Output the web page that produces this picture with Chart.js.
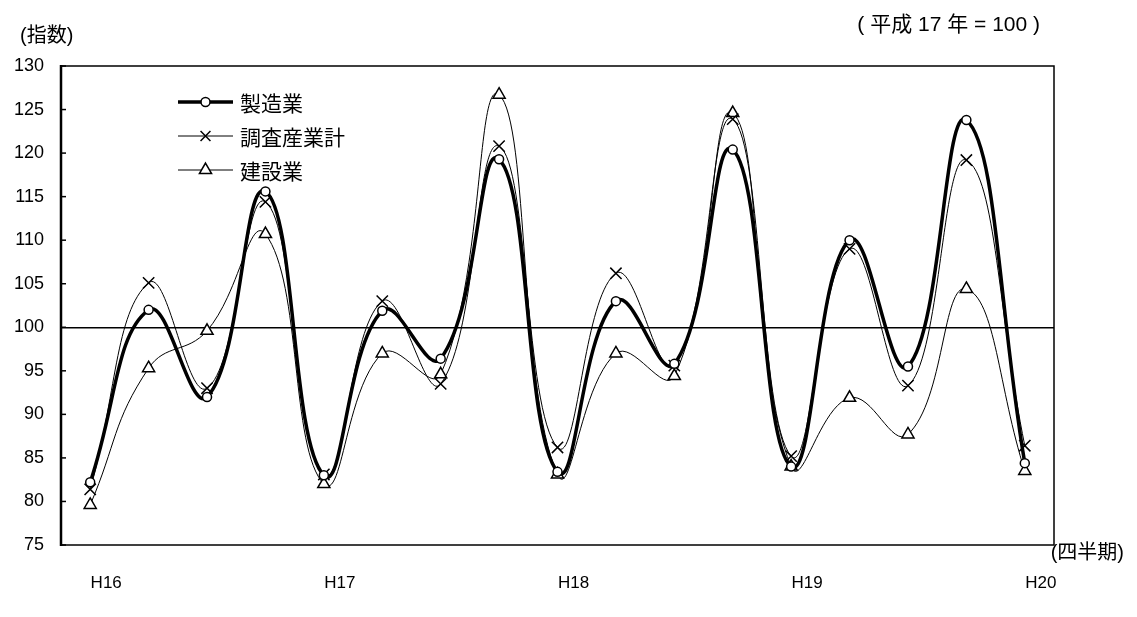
<!DOCTYPE html>
<html lang="ja">
<head>
<meta charset="utf-8">
<title>指数の推移</title>
<script src="https://cdn.jsdelivr.net/npm/chart.js@4/dist/chart.umd.min.js"></script>
<style>
  html, body { margin: 0; padding: 0; background: #fff; }
  #wrap { position: relative; width: 1137px; height: 617px; }
</style>
</head>
<body>
<div id="wrap"><canvas id="chart" width="1137" height="617"></canvas></div>
<script>
// quarters H16 I .. H20 I
const quarters = ['H16-1','H16-2','H16-3','H16-4','H17-1','H17-2','H17-3','H17-4','H18-1','H18-2','H18-3','H18-4','H19-1','H19-2','H19-3','H19-4','H20-1'];
const tickLabels = ['H16','','','','H17','','','','H18','','','','H19','','','','H20'];

const seriesNames = ['製造業', '調査産業計', '建設業'];
const manufacturing = [82.2, 102.0, 92.0, 115.6, 83.0, 101.9, 96.4, 119.3, 83.4, 103.0, 95.8, 120.4, 84.0, 110.0, 95.5, 123.8, 84.4];
const allIndustries = [81.4, 105.1, 93.0, 114.4, 83.1, 103.0, 93.5, 120.8, 86.2, 106.2, 95.6, 123.9, 85.2, 109.0, 93.3, 119.2, 86.4];
const construction  = [79.6, 95.3, 99.6, 110.7, 82.0, 97.0, 94.6, 126.7, 83.1, 97.0, 94.4, 124.6, 84.0, 91.9, 87.7, 104.4, 83.5];

const yTicks = [75, 80, 85, 90, 95, 100, 105, 110, 115, 120, 125, 130];

const JP = "'Noto Sans CJK JP', 'Noto Sans', sans-serif";
const MIX = "'Liberation Sans', 'Noto Sans CJK JP', sans-serif";
const LAT = "'Liberation Sans', Arial, sans-serif";

const styles = [
    { width: 3.5, point: 'circle', radius: 4.5, bg: '#fff' },
    { width: 1, point: 'crossRot', radius: 8, bg: '#fff' },
    { width: 1, point: 'triangle', radius: 7, bg: '#fff' }
];

function drawMarker( ctx, style, x, y ){
    Chart.helpers.drawPoint( ctx, {
        pointStyle: style.point,
        radius: style.radius,
        rotation: 0,
        borderWidth: 1.5
    }, x, y );
}

// frame, inward ticks, legend and the loose texts
const extras = {
    id: 'extras',
    afterDraw( chart ){
        const { ctx, chartArea: a, scales: { y } } = chart;
        ctx.save();
        ctx.strokeStyle = '#000';
        ctx.lineWidth = 1.5;
        ctx.strokeRect( a.left, a.top, a.right - a.left, a.bottom - a.top );
        ctx.lineWidth = 2.5;
        ctx.beginPath();
        ctx.moveTo( a.left, a.top - 1 );
        ctx.lineTo( a.left, a.bottom + 1 );
        ctx.stroke();

        ctx.lineWidth = 1.5;
        y.ticks.forEach( t => {
            const py = y.getPixelForValue( t.value );
            ctx.beginPath();
            ctx.moveTo( a.left, py );
            ctx.lineTo( a.left + 5, py );
            ctx.stroke();
        } );

        // legend
        const lx = 178, lw = 55, ly0 = 102, step = 34;
        seriesNames.forEach( ( name, i ) => {
            const st = styles[i];
            const ly = ly0 + i * step;
            ctx.lineWidth = st.width;
            ctx.beginPath();
            ctx.moveTo( lx, ly );
            ctx.lineTo( lx + lw, ly );
            ctx.stroke();
            ctx.fillStyle = '#fff';
            ctx.lineWidth = 1.5;
            drawMarker( ctx, i === 1 ? { ...st, radius: 7 } : st, lx + lw / 2, ly );
            ctx.fillStyle = '#000';
            ctx.font = '21px ' + JP;
            ctx.textAlign = 'left';
            ctx.textBaseline = 'middle';
            ctx.fillText( name, lx + lw + 7, ly + 1 );
        } );

        ctx.fillStyle = '#000';
        ctx.textBaseline = 'middle';
        ctx.font = '20px ' + MIX;
        ctx.textAlign = 'left';
        ctx.fillText( '(指数)', 20, 36 );
        ctx.font = '21px ' + MIX;
        ctx.textAlign = 'right';
        ctx.fillText( '( 平成 17 年 = 100 )', 1040, 25 );
        ctx.font = '20px ' + MIX;
        ctx.fillText( '(四半期)', 1124, 553 );
        ctx.restore();
    }
};

const datasets = [ manufacturing, allIndustries, construction ].map( ( values, i ) => ( {
    label: seriesNames[i],
    data: values,
    borderColor: '#000',
    borderWidth: styles[i].width,
    pointStyle: styles[i].point,
    pointRadius: styles[i].radius,
    pointBackgroundColor: styles[i].bg,
    pointBorderColor: '#000',
    pointBorderWidth: 1.5,
    tension: 0.45,
    fill: false
} ) );

new Chart( document.getElementById( 'chart' ), {
    type: 'line',
    data: { labels: quarters, datasets },
    plugins: [ extras ],
    options: {
        responsive: false,
        animation: false,
        devicePixelRatio: 1,
        layout: { padding: { left: 0, top: 66, right: 83, bottom: 0 } },
        plugins: {
            legend: { display: false },
            tooltip: { enabled: false }
        },
        scales: {
            x: {
                offset: true,
                border: { display: false },
                grid: { display: false, drawTicks: false },
                ticks: {
                    autoSkip: false,
                    maxRotation: 0,
                    padding: 28,
                    labelOffset: 16,
                    color: '#000',
                    font: { family: LAT, size: 17 },
                    callback: ( v, i ) => tickLabels[i]
                },
                afterFit: s => { s.height = 72; }
            },
            y: {
                min: 75,
                max: 130,
                border: { display: false },
                grid: {
                    drawTicks: false,
                    lineWidth: 1.5,
                    color: c => ( c.tick && c.tick.value === 100 ) ? '#000' : 'rgba(0,0,0,0)'
                },
                ticks: {
                    stepSize: 5,
                    padding: 17,
                    color: '#000',
                    font: { family: LAT, size: 18 },
                    callback: v => yTicks.includes( v ) ? v : ''
                },
                afterFit: s => { s.width = 61; }
            }
        }
    }
} );
</script>
</body>
</html>
